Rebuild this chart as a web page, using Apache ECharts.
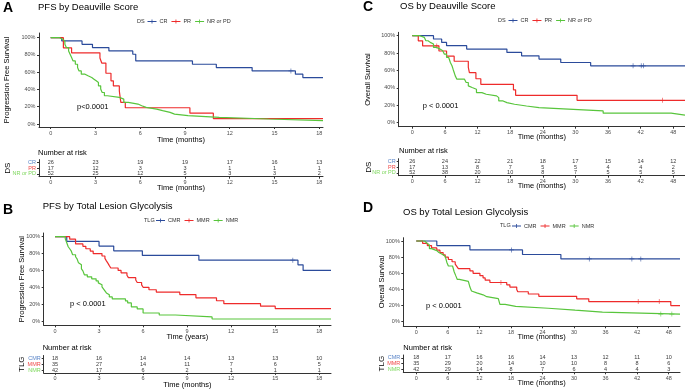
<!DOCTYPE html>
<html><head><meta charset="utf-8">
<script src="https://cdn.jsdelivr.net/npm/echarts@6/dist/echarts.min.js"></script>
<style>html,body{margin:0;padding:0;background:#fff}#c{width:685px;height:391px}</style>
</head><body><div id="c"></div>
<script>
const FONT = '"Liberation Sans", Arial, Helvetica, sans-serif';
const C_BLUE = '#2b4b9b', C_RED = '#ee2b2b', C_GREEN = '#58c53c';
const L_BLUE = '#5a85c8', L_RED = '#f04848', L_GREEN = '#80d860';

// ---------- Panel A : PFS by Deauville Score ----------
const pfsDsTicks = [0, 3, 6, 9, 12, 15, 18];
const pfsDsCR = [[0,100],[0.74,96.2],[2.1,92.3],[2.8,88.5],[3.9,84.6],[5.5,80.8],[5.7,73.1],[9.5,69.2],[11.1,65.4],[13.5,61.5],[16.4,57.7],[16.9,53.8],[18.25,53.8]];
const pfsDsCRc = [[16.1,61.5]];
const pfsDsPR = [[0,100],[0.85,88.2],[1.4,82.4],[3.3,76.5],[3.42,70.6],[3.7,58.8],[4.04,50],[4.2,44.1],[4.6,38.2],[4.7,25],[5.0,18.8],[9.33,12.5],[10.9,6.3],[18.25,6.3]];
const pfsDsNR = [[0,100],[0.6,98.1],[0.8,96.2],[0.95,92.3],[1.05,88.5],[1.2,84.6],[1.3,80.8],[1.4,76.9],[1.5,73.1],[1.65,69.2],[1.8,65.4],[1.9,61.5],[2.05,57.7],[2.3,55.8],[2.5,53.8],[2.75,51.9],[2.9,50],[3.05,48.1],[3.2,44.2],[3.35,40.4],[3.45,36.5],[3.6,32.7],[3.8,30.8],[4.6,28.8],[4.9,25],[5.2,23.1],[5.85,21.2],[6.1,19.2],[6.4,17.3],[7.1,15.4],[7.5,13.5],[8.0,11.5],[8.3,9.6],[9.2,7.7],[11.3,5.8],[14.6,3.8],[18.25,3.8]];
const riskPfsDsCR = [26, 23, 19, 19, 17, 16, 13];
const riskPfsDsPR = [17, 12, 3, 3, 1, 1, 1];
const riskPfsDsNR = [52, 25, 12, 5, 3, 3, 2];

// ---------- Panel C : OS by Deauville Score ----------
const osTicks = [0, 6, 12, 18, 24, 30, 36, 42, 48];
const osDsCR = [[0,100],[3.9,96.2],[5.4,92.3],[6.3,88.5],[10,84.6],[17.4,80.8],[20.1,76.9],[23.3,73.1],[27.3,69.2],[32.8,65.4],[50.15,65.4]];
const osDsCRc = [[40.6,65.4],[42.1,65.4],[42.5,65.4]];
const osDsPR = [[0,100],[1.1,94.1],[1.9,88.2],[4.9,82.4],[6.3,76.5],[7.7,70.6],[10.3,63.5],[10.5,57.5],[11.7,50.5],[12.6,44.1],[18.6,37.8],[19.0,31.5],[30.3,25.7],[50.15,25.7]];
const osDsPRc = [[4.5,88.2],[46,25.7]];
const osDsNR = [[0,100],[1.4,98.1],[2.2,96.2],[2.5,94.2],[2.9,92.3],[3.3,90.4],[3.9,86.5],[4.5,84.6],[5.1,82.7],[5.6,80.8],[5.9,78.8],[6.3,75],[6.7,73.1],[7.0,69.2],[7.3,65.4],[7.5,61.5],[7.7,57.7],[7.9,53.8],[8.2,50],[9.6,48.1],[9.9,46.2],[10.3,42.3],[10.6,40.4],[11.0,38.5],[11.8,34.6],[12.8,32.7],[13.6,30.8],[15.5,28.8],[15.9,25],[16.7,23.1],[17.4,21.2],[18.8,19.2],[21,17.3],[23.3,15.4],[29.6,13.5],[35.1,11],[47.6,8.8],[50.15,8.8]];
const riskOsDsCR = [26, 24, 22, 21, 18, 17, 15, 14, 12];
const riskOsDsPR = [17, 13, 8, 7, 5, 5, 4, 4, 2];
const riskOsDsNR = [52, 38, 20, 10, 8, 7, 5, 5, 5];

// ---------- Panel B : PFS by Total Lesion Glycolysis ----------
const pfsTlgCMR = [[0,100],[0.8,94.4],[3.0,88.9],[4.0,83.3],[5.95,77.8],[9.8,72.2],[16.55,66.7],[16.9,60.0],[18.8,60.0]];
const pfsTlgCMRc = [[16.2,72.2]];
const pfsTlgMMR = [[0,100],[1.0,97.1],[1.4,91.4],[1.9,88.6],[2.1,85.7],[2.4,82.9],[2.6,80],[3.2,77.1],[3.4,74.3],[3.5,71.4],[3.6,68.6],[3.7,65.7],[3.8,62.9],[4.3,60],[4.5,57.1],[4.9,54.3],[5.0,51.4],[5.5,48.6],[5.6,45.7],[5.9,42.9],[6.0,40],[6.4,37.1],[6.9,34.3],[8.5,31.4],[9.6,27.5],[11.0,24],[11.5,20.6],[14.0,17.6],[15.0,14.7],[18.8,14.7]];
const pfsTlgNMR = [[0,100],[0.7,97.6],[0.8,92.9],[0.9,88.1],[1.0,85.7],[1.1,83.3],[1.2,78.6],[1.4,76.2],[1.5,73.8],[1.6,69],[1.7,66.7],[1.8,61.9],[1.9,59.5],[2.0,54.8],[2.2,52.4],[2.5,50],[2.8,47.6],[2.95,45.2],[3.05,42.9],[3.2,40.5],[3.3,38.1],[3.4,35.7],[3.5,33.3],[3.6,31],[3.7,28.6],[3.9,26.2],[4.8,23.8],[4.95,21.4],[5.2,16.7],[5.6,14.3],[6.0,9.5],[7.1,7.1],[8.2,4.8],[10.7,2.4],[18.8,2.4]];
const riskPfsTlgCMR = [18, 16, 14, 14, 13, 13, 10];
const riskPfsTlgMMR = [35, 27, 14, 11, 7, 6, 5];
const riskPfsTlgNMR = [42, 17, 6, 2, 1, 1, 1];

// ---------- Panel D : OS by Total Lesion Glycolysis ----------
const osTlgCMR = [[0,100],[3.9,94.4],[10.2,88.9],[20.2,83.3],[27.5,77.8],[50.15,77.8]];
const osTlgCMRc = [[18.1,88.9],[32.9,77.8],[41,77.8],[42.7,77.8]];
const osTlgMMR = [[0,100],[1.2,97.1],[2.1,94.3],[2.9,91.4],[3.9,88.6],[4.5,85.7],[5.1,82.9],[5.5,80],[6.1,77.1],[6.8,74.3],[7.4,71.4],[7.7,68.6],[8.0,65.7],[10.2,62.9],[10.8,60],[12.1,57.1],[12.7,54.3],[13.1,51.4],[14.0,48.6],[17.2,45.7],[17.8,42.9],[19.1,40],[19.3,37.1],[21.3,34.3],[23.3,31.4],[30.5,28.4],[32.8,25],[48.4,20],[50.15,20]];
const osTlgMMRc = [[16.1,48.6],[42.2,25],[46.2,25]];
const osTlgNMR = [[0,100],[1.6,97.6],[2.0,95.2],[2.5,90.5],[2.9,88.1],[3.9,85.7],[4.3,83.3],[5.0,81],[5.5,78.6],[5.8,73.8],[6.1,69],[6.9,66.7],[7.2,61.9],[7.5,57.1],[7.8,52.4],[8.2,50],[9.9,47.6],[10.2,42.9],[10.5,38.1],[10.7,35.7],[11.5,33.3],[12.7,31],[13.4,28.6],[15.6,26.2],[15.9,21.4],[16.9,19],[18.9,16.7],[25.1,14.3],[30.2,11.9],[35.4,9.5],[50.15,9.5]];
const osTlgNMRc = [[46.5,9.5],[48.6,9.5]];
const riskOsTlgCMR = [18, 17, 16, 16, 14, 13, 12, 11, 10];
const riskOsTlgMMR = [35, 29, 20, 14, 10, 10, 8, 8, 6];
const riskOsTlgNMR = [42, 29, 14, 8, 7, 6, 4, 4, 3];

const yTicks = [0, 20, 40, 60, 80, 100];

const panels = [
  { letter:'A', title:'PFS by Deauville Score', pval:'p<0.0001', legTitle:'DS',
    plot:{left:39, top:33, width:284, height:94, xmin:-0.784, xmax:18.25, ymin:-3.48, ymax:105.4},
    risk:{left:39, top:159.6, width:284, height:17.1},
    ticks:pfsDsTicks, xName:'Time (months)', xNameGap:13, yName:'Progression Free Survival', yNameGap:28,
    riskName:'DS', riskNameGap:27, riskXNameGap:11.3,
    pos:{letter:[3,8], title:[38,7], legT:[137,21], leg:[147.5,18.5], p:[77,107], nar:[38,153]},
    groups:[
      {name:'CR', curve:pfsDsCR, censor:pfsDsCRc, risk:riskPfsDsCR, color:C_BLUE, lcolor:L_BLUE},
      {name:'PR', curve:pfsDsPR, censor:[], risk:riskPfsDsPR, color:C_RED, lcolor:L_RED},
      {name:'NR or PD', curve:pfsDsNR, censor:[], risk:riskPfsDsNR, color:C_GREEN, lcolor:L_GREEN}]},
  { letter:'C', title:'OS by Deauville Score', pval:'p < 0.0001', legTitle:'DS',
    plot:{left:398.7, top:32.3, width:286.3, height:94.4, xmin:-2.5, xmax:50.15, ymin:-4.6, ymax:103.9},
    risk:{left:398.7, top:158.7, width:286.3, height:17},
    ticks:osTicks, xName:'Time (months)', xNameGap:10.3, yName:'Overall Survival', yNameGap:27,
    riskName:'DS', riskNameGap:26, riskXNameGap:10.3,
    pos:{letter:[363,7], title:[400,6], legT:[498,20], leg:[508.5,17.5], p:[422.7,106], nar:[399,150.7]},
    groups:[
      {name:'CR', curve:osDsCR, censor:osDsCRc, risk:riskOsDsCR, color:C_BLUE, lcolor:L_BLUE},
      {name:'PR', curve:osDsPR, censor:osDsPRc, risk:riskOsDsPR, color:C_RED, lcolor:L_RED},
      {name:'NR or PD', curve:osDsNR, censor:[], risk:riskOsDsNR, color:C_GREEN, lcolor:L_GREEN}]},
  { letter:'B', title:'PFS by Total Lesion Glycolysis', pval:'p < 0.0001', legTitle:'TLG',
    plot:{left:43.7, top:233, width:287.3, height:92.3, xmin:-0.77, xmax:18.8, ymin:-5.1, ymax:104.4},
    risk:{left:43.7, top:355.5, width:287.3, height:17.4},
    ticks:pfsDsTicks, xName:'Time (years)', xNameGap:11.4, yName:'Progression Free Survival', yNameGap:18.2,
    riskName:'TLG', riskNameGap:17.7, riskXNameGap:12.3,
    pos:{letter:[3,210], title:[42.7,206.7], legT:[144,220], leg:[156,217.5], p:[70,304], nar:[42.7,348.3]},
    groups:[
      {name:'CMR', curve:pfsTlgCMR, censor:pfsTlgCMRc, risk:riskPfsTlgCMR, color:C_BLUE, lcolor:L_BLUE},
      {name:'MMR', curve:pfsTlgMMR, censor:[], risk:riskPfsTlgMMR, color:C_RED, lcolor:L_RED},
      {name:'NMR', curve:pfsTlgNMR, censor:[], risk:riskPfsTlgNMR, color:C_GREEN, lcolor:L_GREEN}]},
  { letter:'D', title:'OS by Total Lesion Glycolysis', pval:'p < 0.0001', legTitle:'TLG',
    plot:{left:403.3, top:237.7, width:276.7, height:88.6, xmin:-2.47, xmax:50.15, ymin:-5.7, ymax:104.1},
    risk:{left:403.3, top:355, width:276.7, height:17.3},
    ticks:osTicks, xName:'Time (months)', xNameGap:10.7, yName:'Overall Survival', yNameGap:17.2,
    riskName:'TLG', riskNameGap:17.3, riskXNameGap:10.4,
    pos:{letter:[363,208], title:[403,212.3], legT:[500,225.7], leg:[512,223], p:[426,306], nar:[403.3,348.3]},
    groups:[
      {name:'CMR', curve:osTlgCMR, censor:osTlgCMRc, risk:riskOsTlgCMR, color:C_BLUE, lcolor:L_BLUE},
      {name:'MMR', curve:osTlgMMR, censor:osTlgMMRc, risk:riskOsTlgMMR, color:C_RED, lcolor:L_RED},
      {name:'NMR', curve:osTlgNMR, censor:osTlgNMRc, risk:riskOsTlgNMR, color:C_GREEN, lcolor:L_GREEN}]}
];

const PLUS = 'path://M0,4.3H10V5.7H0Z M4.3,0H5.7V10H4.3Z';
const LEG_ICON = 'path://M0,4.2H18V5.8H0Z M8.2,1H9.8V9H8.2Z';
const AX = '#333';
const grid = [], xAxis = [], yAxis = [], series = [], legend = [], graphic = [];

function txt(x, y, text, size, opts) {
  opts = opts || {};
  graphic.push({type:'text', x:x, y:y, silent:true, style:{text:text, fontSize:size, fontFamily:FONT,
    fontWeight:opts.bold ? 'bold' : 'normal', fill:opts.color || '#000', align:opts.align || 'left', verticalAlign:'middle'}});
}

panels.forEach(p => {
  const gi = grid.length;
  grid.push({left:p.plot.left, top:p.plot.top, width:p.plot.width, height:p.plot.height});
  grid.push({left:p.risk.left, top:p.risk.top, width:p.risk.width, height:p.risk.height});
  const line = {show:true, onZero:false, lineStyle:{color:AX, width:1}};
  const xLab = {customValues:p.ticks, fontSize:5.5, color:'#4d4d4d', margin:3, fontFamily:FONT};
  const xTick = {show:true, length:2, customValues:p.ticks, lineStyle:{color:AX}};
  const nameStyle = {fontSize:7.5, color:'#000', fontFamily:FONT};
  xAxis.push({gridIndex:gi, type:'value', min:p.plot.xmin, max:p.plot.xmax, axisLine:line, axisTick:xTick,
    axisLabel:xLab, splitLine:{show:false}, name:p.xName, nameLocation:'middle', nameGap:p.xNameGap, nameMoveOverlap:false,
    nameTextStyle:Object.assign({verticalAlign:'middle'}, nameStyle)});
  yAxis.push({gridIndex:gi, type:'value', min:p.plot.ymin, max:p.plot.ymax, axisLine:line,
    axisTick:{show:true, length:2, customValues:yTicks, lineStyle:{color:AX}},
    axisLabel:{customValues:yTicks, formatter:'{value}%', fontSize:5.5, color:'#4d4d4d', margin:3.5, fontFamily:FONT},
    splitLine:{show:false}, name:p.yName, nameLocation:'middle', nameRotate:90, nameGap:p.yNameGap, nameMoveOverlap:false, nameTextStyle:nameStyle});
  const colorMap = {};
  p.groups.forEach(g => colorMap[g.name] = g.lcolor);
  xAxis.push({gridIndex:gi+1, type:'value', min:p.plot.xmin, max:p.plot.xmax, axisLine:line, axisTick:xTick,
    axisLabel:xLab, splitLine:{show:false}, name:'Time (months)', nameLocation:'middle', nameGap:p.riskXNameGap, nameMoveOverlap:false,
    nameTextStyle:Object.assign({verticalAlign:'middle'}, nameStyle)});
  yAxis.push({gridIndex:gi+1, type:'category', data:p.groups.map(g => g.name).reverse(), axisLine:line,
    axisTick:{show:true, length:2, alignWithLabel:true, interval:0, lineStyle:{color:AX}},
    axisLabel:{interval:0, fontSize:5.5, margin:3, fontFamily:FONT, color:(v) => colorMap[v]},
    name:p.riskName, nameLocation:'middle', nameRotate:90, nameGap:p.riskNameGap, nameMoveOverlap:false,
    nameTextStyle:{fontSize:8, color:'#000', fontFamily:FONT}});
  p.groups.forEach(g => {
    series.push({type:'line', name:g.name, xAxisIndex:gi, yAxisIndex:gi, data:g.curve, step:'end', symbol:'none',
      lineStyle:{color:g.color, width:1.2}, itemStyle:{color:g.color}, animation:false, clip:true});
  });
  p.groups.forEach(g => {
    if (g.censor.length) series.push({type:'scatter', name:p.letter + '-' + g.name + '-censor', xAxisIndex:gi, yAxisIndex:gi,
      data:g.censor, symbol:PLUS, symbolSize:5, itemStyle:{color:g.color}, animation:false});
    series.push({type:'scatter', name:p.letter + '-' + g.name + '-risk', xAxisIndex:gi+1, yAxisIndex:gi+1,
      data:p.ticks.map((t, i) => [t, g.name, g.risk[i]]), symbolSize:1, itemStyle:{color:'rgba(0,0,0,0)'},
      label:{show:true, position:'inside', formatter:(d) => String(d.value[2]), fontSize:5.5, color:'#000', fontFamily:FONT}, animation:false});
  });
  legend.push({data:p.groups.map(g => ({name:g.name, icon:LEG_ICON, itemStyle:{color:g.color}})), left:p.pos.leg[0], top:p.pos.leg[1],
    padding:0, itemWidth:9, itemHeight:5, itemGap:4, selectedMode:false,
    textStyle:{fontSize:5.5, color:'#333', fontFamily:FONT, padding:[0,0,0,-2]}});
  txt(p.pos.letter[0], p.pos.letter[1], p.letter, 14, {bold:true});
  txt(p.pos.title[0], p.pos.title[1], p.title, 9.5);
  txt(p.pos.legT[0], p.pos.legT[1], p.legTitle, 5.5, {color:'#333'});
  txt(p.pos.p[0], p.pos.p[1], p.pval, 7.5);
  txt(p.pos.nar[0], p.pos.nar[1], 'Number at risk', 7.5);
});

const chart = echarts.init(document.getElementById('c'), null, {renderer:'canvas'});
chart.setOption({backgroundColor:'#fff', animation:false, grid, xAxis, yAxis, series, legend, graphic});
</script></body></html>
